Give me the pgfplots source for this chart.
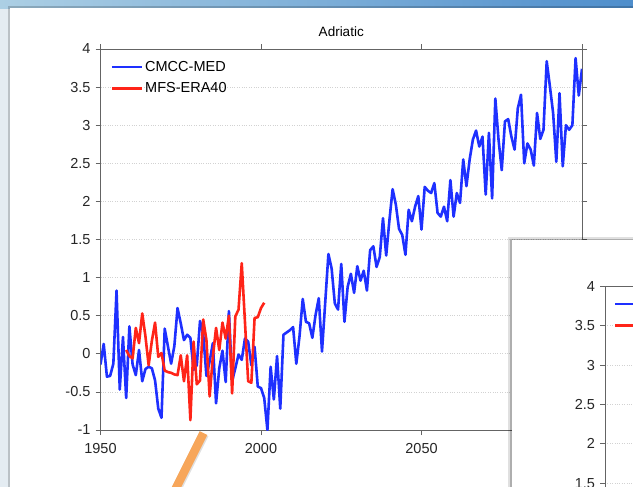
\documentclass[border=0pt]{standalone}
\usepackage{fontspec}
\setmainfont{Liberation Sans}
\usepackage{pgfplots}
\usepackage{pgfplotstable}
\pgfplotsset{compat=1.18}

\definecolor{cmccblue}{RGB}{30,48,255}
\definecolor{mfsred}{RGB}{255,36,24}
\definecolor{axisgray}{RGB}{100,100,100}
\definecolor{gridgray}{RGB}{210,210,210}
\definecolor{arroworange}{RGB}{247,166,90}
\definecolor{bandlight}{RGB}{172,207,228}
\definecolor{banddark}{RGB}{78,142,204}
\definecolor{slideside}{RGB}{228,236,242}

% Adriatic SST anomaly, CMCC-MED scenario run
\pgfplotstableread{
year sst
1950 -0.14
1951 0.13
1952 -0.30
1953 -0.29
1954 -0.13
1955 0.83
1956 -0.47
1957 0.22
1958 -0.58
1959 0.36
1960 -0.14
1961 -0.28
1962 0.05
1963 -0.36
1964 -0.20
1965 -0.17
1966 -0.19
1967 -0.35
1968 -0.72
1969 -0.84
1970 0.33
1971 0.10
1972 -0.13
1973 0.10
1974 0.60
1975 0.40
1976 0.18
1977 0.25
1978 0.21
1979 -0.21
1980 -0.15
1981 0.43
1982 0.26
1983 -0.29
1984 -0.10
1985 0.14
1986 -0.65
1987 -0.19
1988 0.04
1989 -0.37
1990 0.56
1991 -0.36
1992 -0.19
1993 -0.01
1994 -0.08
1995 0.20
1996 0.16
1997 -0.15
1998 0.09
1999 -0.43
2000 -0.45
2001 -0.58
2002 -1.00
2003 -0.17
2004 -0.60
2005 -0.03
2006 -0.72
2007 0.25
2008 0.28
2009 0.31
2010 0.35
2011 -0.13
2012 0.23
2013 0.72
2014 0.42
2015 0.40
2016 0.21
2017 0.51
2018 0.73
2019 0.03
2020 0.67
2021 1.31
2022 1.12
2023 0.66
2024 0.58
2025 1.18
2026 0.42
2027 0.88
2028 1.05
2029 0.80
2030 1.15
2031 0.96
2032 1.09
2033 0.83
2034 1.36
2035 1.41
2036 1.14
2037 1.27
2038 1.78
2039 1.29
2040 1.75
2041 2.16
2042 1.96
2043 1.64
2044 1.56
2045 1.30
2046 1.89
2047 1.74
2048 1.93
2049 2.07
2050 1.63
2051 2.19
2052 2.14
2053 2.11
2054 2.24
2055 1.85
2056 1.80
2057 1.93
2058 1.74
2059 2.28
2060 1.80
2061 2.11
2062 1.98
2063 2.55
2064 2.20
2065 2.55
2066 2.81
2067 2.93
2068 2.72
2069 2.85
2070 2.09
2071 2.90
2072 2.04
2073 3.35
2074 2.81
2075 2.41
2076 3.05
2077 3.08
2078 2.85
2079 2.68
2080 3.22
2081 3.40
2082 2.50
2083 2.76
2084 2.68
2085 2.47
2086 3.16
2087 2.82
2088 2.94
2089 3.84
2090 3.51
2091 3.16
2092 2.52
2093 3.42
2094 2.46
2095 3.00
2096 2.94
2097 3.00
2098 3.88
2099 3.39
2100 3.74
}\cmccmed

% Adriatic SST anomaly, MFS reanalysis forced by ERA40
\pgfplotstableread{
year sst
1958 0.05
1959 -0.03
1960 -0.06
1961 0.34
1962 0.14
1963 0.53
1964 0.23
1965 -0.15
1966 0.17
1967 0.41
1968 -0.04
1969 0.01
1970 -0.22
1971 -0.24
1972 -0.25
1973 -0.27
1974 -0.28
1975 -0.02
1976 -0.36
1977 -0.02
1978 -0.87
1979 0.16
1980 -0.40
1981 -0.35
1982 0.45
1983 0.18
1984 -0.56
1985 -0.04
1986 0.34
1987 0.05
1988 0.41
1989 0.20
1990 0.50
1991 -0.52
1992 0.49
1993 0.58
1994 1.19
1995 0.42
1996 -0.36
1997 -0.38
1998 0.47
1999 0.48
2000 0.60
2001 0.67
}\mfsera

\pgfplotsset{
  anomaly axis/.style={
    scale only axis,
    anchor=north west,
    axis line style={axisgray, line width=0.8bp},
    every tick/.style={axisgray, line width=0.8bp},
    tick align=outside,
    major tick length=5bp,
    xtick pos=both, ytick pos=both,
    ymajorgrids,
    major grid style={gridgray, dotted, line width=0.8bp},
    tick label style={font=\fontsize{14.5bp}{17bp}\selectfont, text=black!85},
    yticklabel style={xshift=-1.5bp},
    xticklabel style={yshift=-5bp},
    /pgf/number format/assume math mode=true,
    legend cell align=left,
    legend style={draw=none, fill=none, at={(0,1)}, anchor=north west,
      inner xsep=0pt, inner ysep=0pt,
      nodes={inner sep=2bp}, row sep=6bp,
      font=\fontsize{14.5bp}{17bp}\selectfont},
    legend image code/.code={\draw[##1, line width=2.5bp] (0bp,0bp) -- (30bp,0bp);},
  }
}

\begin{document}
\begin{tikzpicture}
\path[use as bounding box] (0,0) rectangle (633bp,-487bp);
\clip (0,0) rectangle (633bp,-487bp);

% slide background and header band
\fill[slideside] (0,0) rectangle (633bp,-487bp);
\shade[left color=bandlight, right color=banddark] (0,0) rectangle (633bp,-8bp);
\fill[black, opacity=0.18] (8bp,-6bp) rectangle (640bp,-490bp);
\fill[white] (10bp,-8bp) rectangle (640bp,-490bp);

% main panel
\begin{axis}[anomaly axis,
  at={(100.5bp,-49bp)}, width=481.5bp, height=381bp,
  xmin=1950, xmax=2100, ymin=-1, ymax=4,
  xtick={1950,2000,2050,2100}, xticklabels={1950,2000,2050,{}},
  ytick={-1,-0.5,0,0.5,1,1.5,2,2.5,3,3.5,4},
  yticklabels={-1,-0.5,0,0.5,1,1.5,2,2.5,3,3.5,4},
  legend style={xshift=10bp, yshift=-10bp},
  title={Adriatic},
  title style={at={(0.5,1)}, anchor=south, inner sep=0pt, yshift=6.5bp,
    font=\fontsize{13.5bp}{15bp}\selectfont},
]
\addplot[cmccblue, line width=2.6bp, line join=round] table[x=year, y=sst] {\cmccmed};
\addlegendentry{CMCC-MED}
\addplot[mfsred, line width=2.6bp, line join=round] table[x=year, y=sst] {\mfsera};
\addlegendentry{MFS-ERA40}
\end{axis}

% second panel lying over the lower right corner
\fill[black, opacity=0.12] (508bp,-237bp) rectangle (640bp,-490bp);
\fill[black, opacity=0.22] (510bp,-239bp) rectangle (640bp,-490bp);
\fill[white] (512bp,-240bp) rectangle (640bp,-490bp);
\begin{axis}[anomaly axis,
  at={(605bp,-286.5bp)}, width=300bp, height=236bp,
  xmin=0, xmax=1, ymin=1, ymax=4, xtick=\empty,
  ytick={1,1.5,2,2.5,3,3.5,4},
  yticklabels={1,1.5,2,2.5,3,3.5,4},
  legend style={xshift=9bp, yshift=-9.5bp},
]
\addlegendimage{cmccblue}
\addlegendentry{CMCC-MED}
\addlegendimage{mfsred}
\addlegendentry{MFS-ERA40}
\end{axis}

% pointer
\draw[black, opacity=0.12, line width=10bp] (176bp,-490bp) -- (204bp,-434bp);
\draw[arroworange, line width=8.5bp] (175bp,-490bp) -- (203.5bp,-433bp);
\end{tikzpicture}
\end{document}
